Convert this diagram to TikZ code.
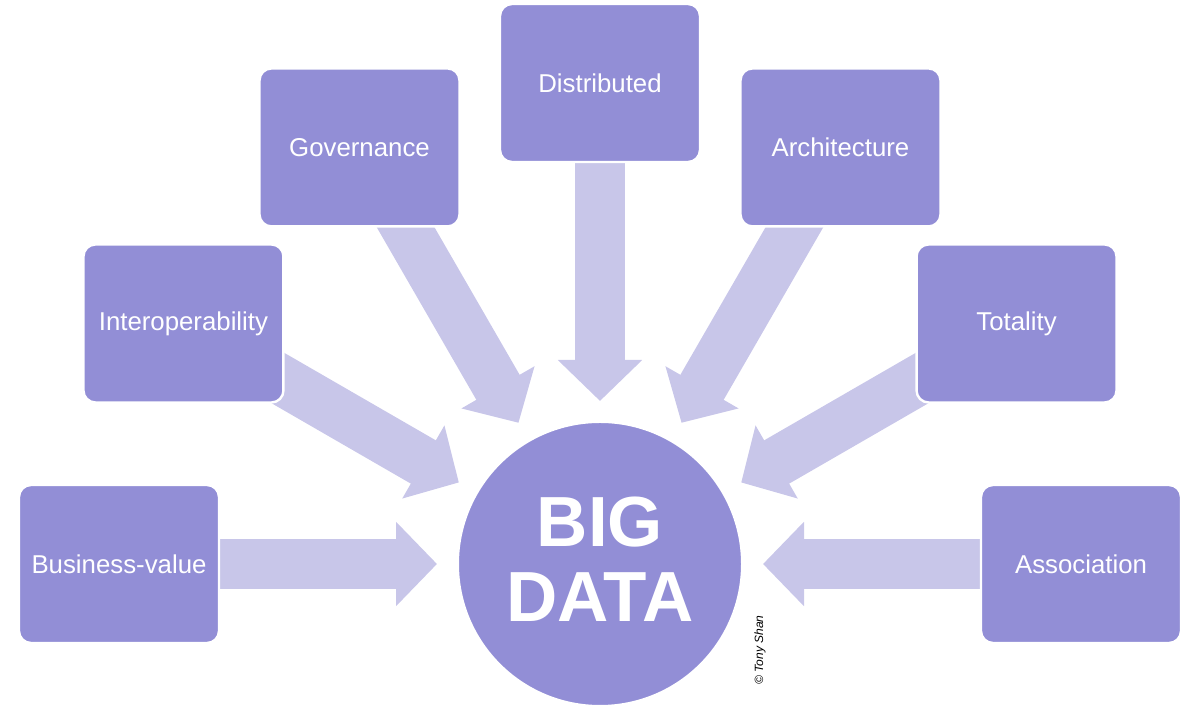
\documentclass[tikz,border=0pt]{standalone}
\usepackage{fontspec}
\setmainfont{Liberation Sans}
\usetikzlibrary{arrows.meta,calc,backgrounds}
\definecolor{boxcol}{RGB}{146,142,214}
\definecolor{arrcol}{RGB}{200,198,233}
\begin{document}
\begin{tikzpicture}[x=0.5pt,y=0.5pt,
  topic/.style={rectangle, rounded corners=6pt, fill=boxcol, draw=white, line width=1.2pt,
    minimum width=100pt, minimum height=79pt, text=white, inner sep=0pt,
    font=\fontsize{12.9}{15}\selectfont},
  hub/.style={circle, fill=boxcol, draw=white, line width=1pt, minimum size=142pt,
    inner sep=0pt},
  hubtext/.style={text=white, align=center, inner sep=0pt,
    font=\bfseries\fontsize{35.5}{37.5}\selectfont},
  flow/.style={draw=arrcol, line width=25pt, -{Triangle[width=41pt,length=20.5pt]}}]
\useasboundingbox (0,0) rectangle (1200,710);
\coordinate (C) at (600,146);
\node[hub] (bd) at (C) {};
\node[hubtext] (bdt) at ($(bd.center)+(0,5)$) {BIG\\DATA};
\foreach \n/\a/\t in {bv/180/Business-value, io/150/Interoperability, gv/120/Governance,
  ds/90/Distributed, ar/60/Architecture, tt/30/Totality, as/0/Association} {
  \node[topic] (\n) at ($(C)+(\a:481)$) {\t};
  \coordinate (\n-tip) at ($(C)+(\a:163)$);
}
\begin{scope}[on background layer]
  \foreach \n in {bv,io,gv,ds,ar,tt,as} \draw[flow] (\n.center) -- (\n-tip);
\end{scope}
\node[rotate=90, inner sep=0pt, font=\itshape\fontsize{6}{7}\selectfont] (cr) at (760,60) {© Tony Shan};
\end{tikzpicture}
\end{document}
